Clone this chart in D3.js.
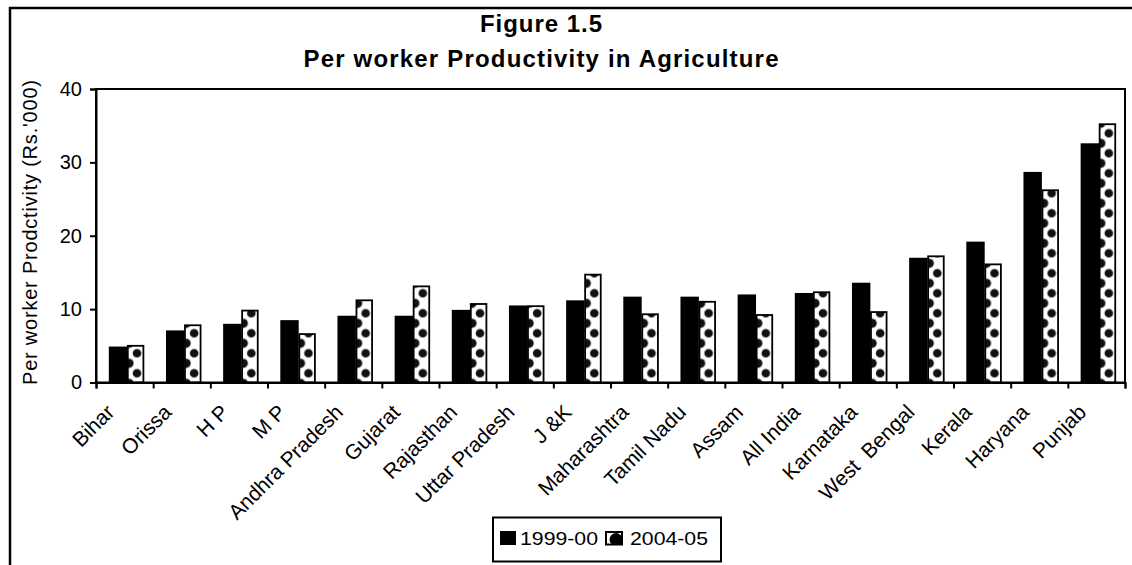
<!DOCTYPE html>
<html>
<head>
<meta charset="utf-8">
<script src="https://cdn.jsdelivr.net/npm/d3@7"></script>
<style>
  html, body { margin: 0; padding: 0; background: #fff; }
  svg { display: block; }
  text { font-family: "Liberation Sans", Arial, sans-serif; fill: #000; white-space: pre; }
</style>
</head>
<body>
<svg id="chart" width="1132" height="565"></svg>
<script>
// Per worker productivity in agriculture, Rs.'000
const categories = ["Bihar", "Orissa", "H P", "M P", "Andhra Pradesh", "Gujarat", "Rajasthan",
  "Uttar Pradesh", "J &K", "Maharashtra", "Tamil Nadu", "Assam", "All India", "Karnataka",
  "West  Bengal", "Kerala", "Haryana", "Punjab"];
const values1999 = [4.9, 7.1, 8.0, 8.5, 9.1, 9.1, 9.9, 10.5, 11.2, 11.7, 11.7, 12.0, 12.2, 13.6, 17.0, 19.2, 28.7, 32.6];
const values2004 = [5.0, 7.8, 9.8, 6.6, 11.2, 13.1, 10.7, 10.4, 14.7, 9.3, 11.0, 9.2, 12.3, 9.6, 17.2, 16.1, 26.2, 35.2];
const seriesNames = ["1999-00", "2004-05"];
const yTicks = [0, 10, 20, 30, 40];
const titleLines = ["Figure 1.5", "Per worker Productivity in Agriculture"];
const yTitle = "Per worker Prodctivity (Rs.'000)";

const W = 1132, H = 565;
const plot = { left: 96, right: 1125, top: 89, bottom: 382.5 };
const svg = d3.select("#chart");

// chart frame
svg.append("rect")
  .attr("x", 10).attr("y", 8).attr("width", W).attr("height", H)
  .attr("fill", "none").attr("stroke", "#000").attr("stroke-width", 2.5);

const x = d3.scaleBand().domain(categories).range([plot.left, plot.right]);
const y = d3.scaleLinear().domain([0, 40]).range([plot.bottom, plot.top]);

// dotted fill used by the second series
const defs = svg.append("defs");
const pat = defs.append("pattern")
  .attr("id", "dots").attr("patternUnits", "userSpaceOnUse")
  .attr("x", plot.left + 31).attr("y", plot.bottom)
  .attr("width", x.step()).attr("height", 20);
pat.append("rect").attr("width", x.step()).attr("height", 20).attr("fill", "#fff");
pat.append("circle").attr("cx", 10).attr("cy", 10.8).attr("r", 4.3).attr("fill", "#111");
pat.append("circle").attr("cx", 2).attr("cy", 0.8).attr("r", 4.6).attr("fill", "#111");
pat.append("circle").attr("cx", 2).attr("cy", 20.8).attr("r", 4.6).attr("fill", "#111");

// title
svg.append("g").selectAll("text").data(titleLines).join("text")
  .attr("x", 541).attr("y", (d, i) => i === 0 ? 32 : 67)
  .attr("text-anchor", "middle").attr("font-size", 24).attr("font-weight", "bold")
  .attr("fill", "#111")
  .attr("textLength", (d, i) => i === 0 ? 122 : 475).attr("lengthAdjust", "spacing")
  .text(d => d);

// bars
const rows = categories.map((c, i) => ({ c, a: values1999[i], b: values2004[i] }));
const bars = svg.append("g");
bars.selectAll("rect.s1").data(rows).join("rect").attr("class", "s1")
  .attr("x", d => x(d.c) + 12.8).attr("width", 18.4)
  .attr("y", d => y(d.a)).attr("height", d => y(0) - y(d.a))
  .attr("fill", "#000");
bars.selectAll("rect.s2").data(rows).join("rect").attr("class", "s2")
  .attr("x", d => x(d.c) + 31.8).attr("width", 15.6)
  .attr("y", d => y(d.b)).attr("height", d => y(0) - y(d.b))
  .attr("fill", "url(#dots)").attr("stroke", "#000").attr("stroke-width", 1.8);

// plot area border
svg.append("rect")
  .attr("x", plot.left).attr("y", plot.top)
  .attr("width", plot.right - plot.left).attr("height", plot.bottom - plot.top)
  .attr("fill", "none").attr("stroke", "#000").attr("stroke-width", 2);

// y axis
const gy = svg.append("g").attr("transform", `translate(${plot.left},0)`)
  .call(d3.axisLeft(y).tickValues(yTicks).tickSize(6).tickPadding(8));
gy.attr("font-family", null).attr("font-size", null);
gy.select(".domain").attr("stroke", "#000").attr("stroke-width", 2);
gy.selectAll(".tick line").attr("stroke", "#000").attr("stroke-width", 2);
gy.selectAll(".tick text").attr("font-size", 20).attr("fill", "#000");

// x axis: ticks between categories
const xb = d3.scaleLinear().domain([0, categories.length]).range([plot.left, plot.right]);
const gx = svg.append("g").attr("transform", `translate(0,${plot.bottom})`)
  .call(d3.axisBottom(xb).tickValues(d3.range(0, categories.length + 1)).tickFormat("").tickSize(6));
gx.select(".domain").attr("stroke", "#000").attr("stroke-width", 2);
gx.selectAll(".tick line").attr("stroke", "#000").attr("stroke-width", 2);

// category labels
svg.append("g").selectAll("text").data(categories).join("text")
  .attr("transform", d => `translate(${x(d) + x.bandwidth() / 2 - 9},${plot.bottom + 31}) rotate(-45)`)
  .attr("text-anchor", "end").attr("font-size", 21)
  .text(d => d);

// y axis title
svg.append("text")
  .attr("transform", "translate(37,232.5) rotate(-90)")
  .attr("text-anchor", "middle").attr("font-size", 20)
  .attr("textLength", 305).attr("lengthAdjust", "spacing")
  .text(yTitle);

// legend
const lg = svg.append("g");
lg.append("rect").attr("x", 493).attr("y", 517.5).attr("width", 228).attr("height", 44)
  .attr("fill", "#fff").attr("stroke", "#000").attr("stroke-width", 2);
lg.append("rect").attr("x", 500).attr("y", 531).attr("width", 16).attr("height", 14).attr("fill", "#000");
lg.append("clipPath").attr("id", "swclip")
  .append("rect").attr("x", 606).attr("y", 532).attr("width", 16).attr("height", 12.5);
lg.append("rect").attr("x", 606).attr("y", 532).attr("width", 16).attr("height", 12.5).attr("fill", "#fff");
lg.append("circle").attr("cx", 616).attr("cy", 539.5).attr("r", 6.5).attr("fill", "#000").attr("clip-path", "url(#swclip)");
lg.append("rect").attr("x", 606).attr("y", 532).attr("width", 16).attr("height", 12.5)
  .attr("fill", "none").attr("stroke", "#000").attr("stroke-width", 2);
lg.selectAll("text.lab").data(seriesNames).join("text").attr("class", "lab")
  .attr("x", (d, i) => i === 0 ? 520 : 630).attr("y", 545)
  .attr("font-size", 19).attr("textLength", 78).attr("lengthAdjust", "spacingAndGlyphs")
  .text(d => d);
</script>
</body>
</html>
